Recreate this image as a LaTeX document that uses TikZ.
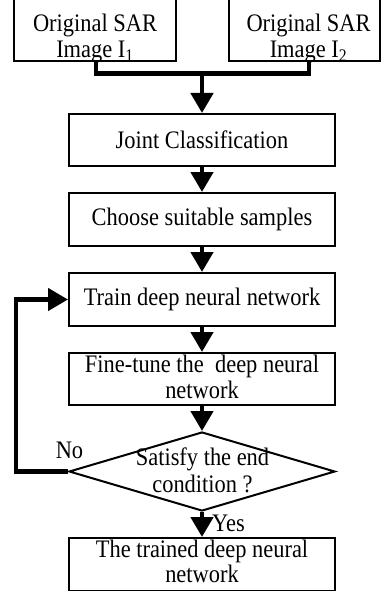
\documentclass[tikz,border=0pt]{standalone}
\usepackage{fontspec}
\setmainfont{Liberation Serif}[FakeStretch=0.89]
\usetikzlibrary{arrows.meta,shapes.geometric}
\begin{document}
\begin{tikzpicture}[x=1pt,y=-1pt,line join=miter,
  box/.style={draw,line width=2pt,minimum width=266pt,minimum height=53pt,inner sep=0pt,align=center,font=\fontsize{25.2}{25.5}\selectfont},
  flow/.style={line width=4.5pt,-{Triangle[length=20pt,width=22pt]}},
  thickline/.style={line width=4.5pt},
  lbl/.style={font=\fontsize{25.2}{25.5}\selectfont,inner sep=0pt}]
\useasboundingbox (0,0) rectangle (381,591);
% top input boxes
\node[box,minimum width=162pt,minimum height=63pt] (b1) at (95,29.5) {};
\node[lbl,align=center] (t1) at (95,38.7) {Original SAR\\Image I\textsubscript{1}};
\node[box,minimum width=151pt,minimum height=63pt] (b2) at (304.5,29.5) {};
\node[lbl,align=center] (t2) at (308.5,38.7) {Original SAR\\Image I\textsubscript{2}};
% main column
\node[box,minimum height=52pt] (joint) at (202,140) {Joint Classification};
\node[box] (choose) at (202,219.5) {Choose suitable samples};
\node[box] (train) at (202,299.5) {Train deep neural network};
\node[box,minimum height=52pt] (fine) at (202,379) {};
\node[lbl,align=center] (tf) at (202,377) {Fine-tune the\ \ deep neural\\network};
\node[draw,diamond,line width=2pt,minimum width=266pt,minimum height=79pt,inner sep=0pt] (d) at (202,471.5) {};
\node[lbl,align=center,font=\fontsize{25.2}{27}\selectfont] (dtext) at (202.5,470) {Satisfy the end\\condition ?};
\node[box] (final) at (202,564.5) {};
\node[lbl,align=center] (tfin) at (202,561.4) {The trained deep neural\\network};
% labels
\node[lbl,anchor=base] (no) at (69.5,458) {No};
\node[lbl,anchor=base west] (yes) at (212,531) {Yes};
% connectors
\coordinate (j) at (202,73.5);
\coordinate (lc) at (16,471.5);
\draw[thickline] ([xshift=1pt]b1.south) |- (j) -| ([xshift=4.5pt]b2.south);
\draw[flow] (j) -- (joint.north);
\draw[flow] (joint) -- (choose);
\draw[flow] (choose) -- (train);
\draw[flow] (train) -- (fine);
\draw[flow] (fine) -- (d.north);
\draw[flow] (d.south) -- (final.north);
\draw[flow] (d.west) -- (lc) |- (train.west);
\end{tikzpicture}
\end{document}
